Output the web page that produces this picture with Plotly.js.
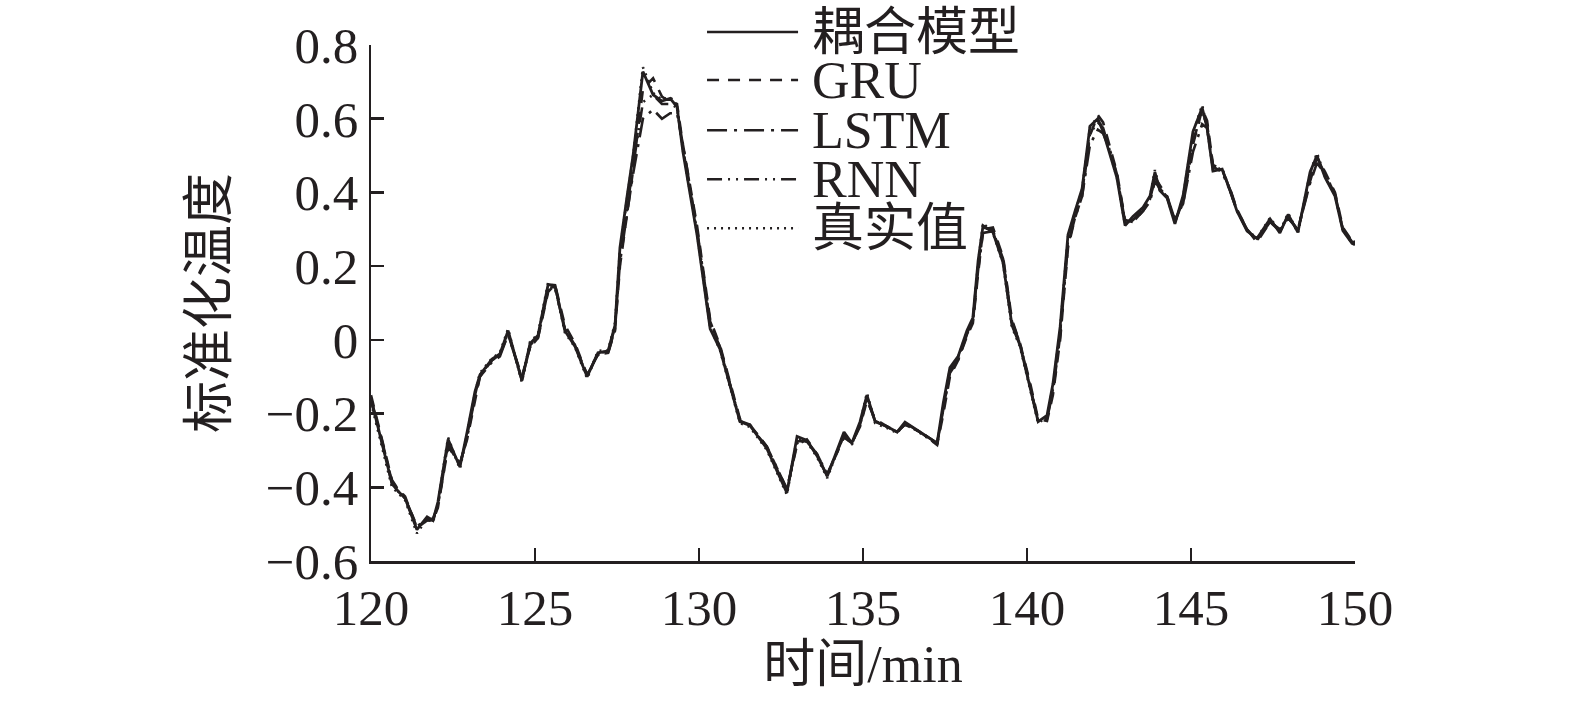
<!DOCTYPE html>
<html>
<head>
<meta charset="utf-8">
<script src="https://cdn.plot.ly/plotly-3.0.1.min.js"></script>
<style>html,body{margin:0;padding:0;background:#fff;}#chart{width:1575px;height:703px;}</style>
</head>
<body>
<div id="chart"></div>
<script>
const time = [
120.00,120.34,120.64,120.82,121.04,121.40,121.71,121.89,122.04,122.35,
122.71,122.93,123.17,123.32,123.69,123.93,124.18,124.60,124.85,125.09,
125.40,125.61,125.91,126.22,126.59,126.92,127.23,127.44,127.59,127.80,
127.99,128.29,128.60,128.87,129.12,129.33,129.51,129.94,130.34,130.64,
131.25,131.55,132.07,132.68,132.99,133.29,133.60,133.91,134.42,134.66,
134.91,135.12,135.37,135.73,136.04,136.28,136.74,137.26,137.45,137.65,
137.90,138.17,138.35,138.51,138.66,138.96,139.27,139.54,139.79,140.09,
140.34,140.61,140.79,141.01,141.25,141.46,141.68,141.92,142.16,142.32,
142.53,142.74,142.99,143.23,143.54,143.75,143.90,144.05,144.27,144.51,
144.76,145.06,145.34,145.49,145.67,145.95,146.19,146.40,146.71,147.01,
147.41,147.71,147.96,148.26,148.63,148.84,149.09,149.39,149.63,149.91,
150.00];

const trueVals = [
-0.17,-0.29,-0.40,-0.415,-0.435,-0.525,-0.485,-0.495,-0.445,-0.265,
-0.35,-0.255,-0.145,-0.09,-0.05,-0.035,0.03,-0.115,-0.005,0.015,
0.155,0.145,0.02,-0.02,-0.105,-0.03,-0.028,0.046,0.244,0.379,
0.496,0.74,0.67,0.651,0.659,0.637,0.515,0.29,0.035,-0.028,
-0.226,-0.236,-0.299,-0.42,-0.266,-0.277,-0.318,-0.375,-0.253,-0.285,
-0.226,-0.144,-0.226,-0.239,-0.253,-0.226,-0.253,-0.283,-0.18,-0.08,
-0.047,0.021,0.054,0.208,0.317,0.29,0.208,0.035,-0.019,-0.128,
-0.226,-0.209,-0.128,0.027,0.279,0.344,0.407,0.577,0.605,0.569,
0.507,0.442,0.312,0.333,0.358,0.388,0.461,0.407,0.388,0.317,
0.388,0.561,0.637,0.577,0.461,0.466,0.407,0.352,0.298,0.276,
0.331,0.293,0.344,0.290,0.453,0.507,0.442,0.393,0.298,0.263,
0.26];

const coupled = [
-0.16,-0.28,-0.39,-0.41,-0.43,-0.515,-0.48,-0.49,-0.44,-0.27,
-0.345,-0.25,-0.14,-0.095,-0.052,-0.038,0.025,-0.11,-0.01,0.012,
0.15,0.148,0.025,-0.018,-0.1,-0.035,-0.03,0.04,0.25,0.385,
0.50,0.728,0.665,0.648,0.655,0.632,0.51,0.285,0.03,-0.025,
-0.222,-0.232,-0.295,-0.415,-0.262,-0.273,-0.315,-0.37,-0.25,-0.28,
-0.222,-0.15,-0.222,-0.235,-0.25,-0.223,-0.25,-0.28,-0.17,-0.075,
-0.045,0.025,0.06,0.215,0.31,0.292,0.21,0.04,-0.015,-0.125,
-0.222,-0.205,-0.12,0.035,0.285,0.348,0.41,0.58,0.6,0.565,
0.505,0.44,0.31,0.335,0.36,0.39,0.455,0.405,0.385,0.315,
0.392,0.565,0.63,0.575,0.458,0.463,0.405,0.35,0.295,0.275,
0.328,0.29,0.34,0.292,0.455,0.5,0.44,0.39,0.296,0.262,
0.258];

const gru = [
-0.15,-0.27,-0.38,-0.405,-0.425,-0.51,-0.49,-0.49,-0.455,-0.29,
-0.335,-0.27,-0.16,-0.1,-0.055,-0.04,0.015,-0.1,-0.02,0.005,
0.13,0.15,0.04,-0.01,-0.095,-0.04,-0.035,0.025,0.2,0.34,
0.46,0.68,0.71,0.66,0.645,0.64,0.53,0.31,0.055,-0.015,
-0.215,-0.23,-0.29,-0.405,-0.285,-0.27,-0.31,-0.365,-0.265,-0.28,
-0.235,-0.165,-0.215,-0.235,-0.25,-0.23,-0.25,-0.285,-0.2,-0.1,
-0.055,0.01,0.045,0.18,0.3,0.305,0.225,0.055,-0.01,-0.115,
-0.215,-0.22,-0.15,0.0,0.25,0.33,0.39,0.555,0.61,0.59,
0.52,0.455,0.325,0.32,0.35,0.38,0.44,0.42,0.39,0.325,
0.37,0.53,0.625,0.595,0.475,0.46,0.41,0.355,0.3,0.265,
0.32,0.3,0.33,0.3,0.43,0.495,0.455,0.4,0.305,0.268,
0.262];

const lstm = [
-0.16,-0.275,-0.385,-0.405,-0.43,-0.505,-0.49,-0.485,-0.45,-0.285,
-0.34,-0.265,-0.155,-0.1,-0.06,-0.045,0.015,-0.105,-0.02,0.005,
0.135,0.14,0.03,-0.015,-0.095,-0.04,-0.035,0.03,0.21,0.34,
0.45,0.6,0.625,0.6,0.615,0.615,0.53,0.3,0.05,-0.02,
-0.22,-0.23,-0.29,-0.405,-0.28,-0.275,-0.31,-0.365,-0.26,-0.28,
-0.23,-0.16,-0.22,-0.235,-0.25,-0.23,-0.25,-0.28,-0.19,-0.09,
-0.055,0.015,0.05,0.19,0.29,0.295,0.22,0.05,-0.01,-0.12,
-0.22,-0.215,-0.14,0.01,0.26,0.33,0.39,0.53,0.57,0.56,
0.515,0.45,0.32,0.32,0.35,0.375,0.43,0.41,0.39,0.325,
0.37,0.51,0.585,0.575,0.47,0.455,0.405,0.35,0.3,0.27,
0.32,0.295,0.33,0.3,0.425,0.48,0.45,0.395,0.3,0.27,
0.265];

const rnn = [
-0.165,-0.28,-0.39,-0.41,-0.43,-0.51,-0.485,-0.49,-0.45,-0.28,
-0.34,-0.26,-0.15,-0.095,-0.055,-0.04,0.02,-0.11,-0.015,0.01,
0.14,0.145,0.03,-0.015,-0.1,-0.035,-0.032,0.035,0.225,0.36,
0.47,0.645,0.665,0.64,0.64,0.63,0.52,0.295,0.045,-0.02,
-0.22,-0.232,-0.292,-0.41,-0.275,-0.275,-0.312,-0.37,-0.258,-0.282,
-0.23,-0.155,-0.22,-0.236,-0.25,-0.226,-0.25,-0.282,-0.185,-0.085,
-0.05,0.018,0.052,0.2,0.305,0.298,0.215,0.045,-0.012,-0.122,
-0.22,-0.212,-0.135,0.02,0.27,0.338,0.4,0.56,0.59,0.575,
0.51,0.448,0.318,0.325,0.355,0.382,0.445,0.412,0.388,0.32,
0.378,0.54,0.615,0.585,0.468,0.46,0.408,0.352,0.298,0.27,
0.325,0.295,0.336,0.296,0.44,0.495,0.448,0.396,0.3,0.266,
0.262];

const seriesNames = ['耦合模型','GRU','LSTM','RNN','真实值'];
const seriesData = [coupled, gru, lstm, rnn, trueVals];
const dashes = ['solid','12px,9px','20px,7px,3px,7px','15px,6px,2px,6px,2px,6px','2px,5px'];
const xTicks = [120,125,130,135,140,145,150];
const ink = '#231f20';

const traces = seriesData.map((v,i)=>({
  x: time, y: v, type:'scatter', mode:'lines', name: seriesNames[i],
  line:{color:ink, width: i===0?2.8:2.6, dash:dashes[i]}, showlegend:false
}));

// manual legend (paper coords)
const rowsY = [1.025, 0.932, 0.835, 0.740, 0.645];
const shapes = [], annotations = [];
seriesNames.forEach((n,i)=>{
  shapes.push({type:'line', xref:'paper', yref:'paper', x0:0.3415, x1:0.434, y0:rowsY[i], y1:rowsY[i],
    line:{color:ink, width:2.5, dash:dashes[i]}});
  annotations.push({xref:'paper', yref:'paper', x:0.446, y:rowsY[i], xanchor:'left', yanchor:'middle',
    text:n, showarrow:false, font:{family:'Liberation Serif, "Noto Sans CJK SC"', size:52, color:ink}});
});

const layout = {
  width:1575, height:703,
  margin:{l:371, r:220, t:45, b:142},
  paper_bgcolor:'#fff', plot_bgcolor:'#fff',
  showlegend:false,
  font:{family:'Liberation Serif, "Noto Sans CJK SC"', color:ink},
  xaxis:{range:[120,150], tickvals:xTicks, ticktext:xTicks.map(String), ticks:'inside', ticklen:13, tickwidth:2.5, tickcolor:ink,
    showline:true, linecolor:ink, linewidth:2.5, showgrid:false, zeroline:false,
    tickfont:{family:'Liberation Serif', size:51, color:ink},
    title:{text:'时间/min', font:{family:'Liberation Serif, "Noto Sans CJK SC"', size:52, color:ink}, standoff:8}},
  yaxis:{range:[-0.6,0.8], dtick:0.2, tick0:-0.6, ticks:'inside', ticklen:13, tickwidth:2.5, tickcolor:ink,
    showline:true, linecolor:ink, linewidth:2.5, showgrid:false, zeroline:false,
    tickfont:{family:'Liberation Serif', size:51, color:ink},
    title:{text:'标准化温度', font:{family:'Liberation Serif, "Noto Sans CJK SC"', size:52, color:ink}, standoff:22}},
  shapes: shapes,
  annotations: annotations
};

Plotly.newPlot('chart', traces, layout, {displayModeBar:false, staticPlot:true});
</script>
</body>
</html>
